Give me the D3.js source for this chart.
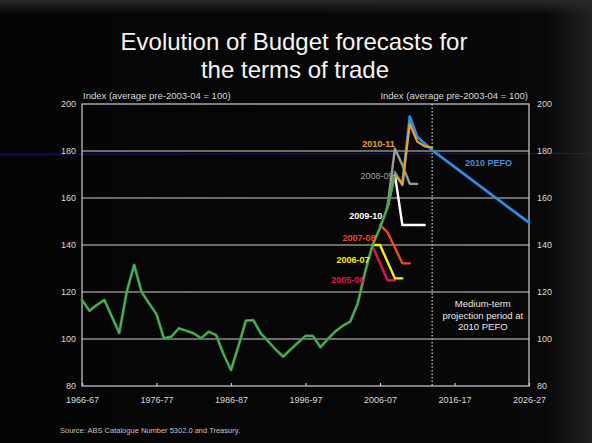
<!DOCTYPE html>
<html><head><meta charset="utf-8">
<script src="https://cdn.jsdelivr.net/npm/d3@7"></script>
<style>html,body{margin:0;padding:0;background:#000;}svg{display:block;}</style>
</head><body><svg id="c" width="592" height="443"></svg>
<script>
// ---------- DATA ----------
const histYears  = [1966,1967,1968,1969,1970,1971,1972,1973,1974,1975,1976,1977,1978,1979,1980,1981,1982,1983,1984,1985,1986,1987,1988,1989,1990,1991,1992,1993,1994,1995,1996,1997,1998,1999,2000,2001,2002,2003,2004,2005,2006,2007,2008];
const histValues = [116.6,112,114.5,116.6,109.6,102.6,120,131.5,120,115.2,110.5,100.3,101,104.5,103.5,102.4,100.3,103.1,101.7,93.5,86.8,97,107.8,108,102.4,99,95.5,92.5,95.5,98.5,101.3,101.3,96.5,100,103.2,105.6,107.4,115,128.5,140,147.3,156,170];

const fc0506Years = [2005,2007,2008];           const fc0506Values = [139.5,125,125];
const fc0607Years = [2005,2006,2008,2009];      const fc0607Values = [140,140,125.8,125.8];
const fc0708Years = [2006,2007,2009,2010];      const fc0708Values = [148.5,145.5,132.2,132.2];
const fc0809Years = [2007,2008,2009,2010,2011]; const fc0809Values = [156,181,174,166,166];
const fc0910Years = [2007,2008,2009,2012];      const fc0910Values = [156,170,148.5,148.5];
const fc1011Years = [2008,2009,2010,2011,2012,2013]; const fc1011Values = [170,166,191.5,184,182,181.5];
const pefoYears   = [2008,2009,2010,2011,2012,2013,2026]; const pefoValues = [171,165.5,194.6,186,183.2,180.4,149.5];

const xTickYears  = [1966,1976,1986,1996,2006,2016,2026];
const xTickLabels = ["1966-67","1976-77","1986-87","1996-97","2006-07","2016-17","2026-27"];
const yTicks      = [80,100,120,140,160,180,200];
const gridValues  = [100,120,140,160,180];
const projectionStartYear = 2013;

// ---------- LAYOUT ----------
const svg = d3.select("#c");
const W = 592, H = 443;
const pL = 82, pR = 529, pT = 104, pB = 386;
const x = d3.scaleLinear().domain([1966,2026]).range([pL,pR]);
const y = d3.scaleLinear().domain([80,200]).range([pB,pT]);
const FONT = "'Liberation Sans', Arial, sans-serif";

// background
const defs = svg.append("defs");
const g1 = defs.append("linearGradient").attr("id","edge").attr("x1","0").attr("x2","1");
g1.append("stop").attr("offset","0%").attr("stop-color","#050505");
g1.append("stop").attr("offset","92%").attr("stop-color","#080808");
g1.append("stop").attr("offset","100%").attr("stop-color","#222222");
svg.append("rect").attr("width",W).attr("height",H).attr("fill","url(#edge)");
const g2 = defs.append("linearGradient").attr("id","topedge").attr("x1","0").attr("x2","0").attr("y1","0").attr("y2","1");
g2.append("stop").attr("offset","0%").attr("stop-color","#2a2a2a");
g2.append("stop").attr("offset","100%").attr("stop-color","#2a2a2a").attr("stop-opacity",0);
svg.append("rect").attr("width",W).attr("height",14).attr("fill","url(#topedge)");

// title
svg.append("text").attr("x",294).attr("y",50).attr("text-anchor","middle")
  .attr("font-family",FONT).attr("font-size",24).attr("fill","#f4f4f4").text("Evolution of Budget forecasts for");
svg.append("text").attr("x",295).attr("y",78).attr("text-anchor","middle")
  .attr("font-family",FONT).attr("font-size",24).attr("fill","#f4f4f4").text("the terms of trade");

// photo artifact line (projector scan line)
svg.append("line").attr("x1",0).attr("x2",W).attr("y1",y(178.6)).attr("y2",y(178.9))
  .attr("stroke","#1c2290").attr("stroke-width",1).attr("opacity",0.8);

// gridlines
svg.append("g").selectAll("line").data(gridValues).join("line")
  .attr("x1",pL).attr("x2",pR).attr("y1",d=>y(d)).attr("y2",d=>y(d))
  .attr("stroke","#cfcfcf").attr("stroke-width",1.2);
// frame
svg.append("rect").attr("x",pL).attr("y",pT).attr("width",pR-pL).attr("height",pB-pT)
  .attr("fill","none").attr("stroke","#cfcfcf").attr("stroke-width",1.2);
// projection divider
svg.append("line").attr("x1",x(projectionStartYear)).attr("x2",x(projectionStartYear))
  .attr("y1",pT).attr("y2",pB).attr("stroke","#cfcfcf").attr("stroke-width",1.2)
  .attr("stroke-dasharray","1.5,2");

// axes
const xAxis = d3.axisBottom(x).tickValues(xTickYears).tickFormat((d,i)=>xTickLabels[i])
  .tickSizeInner(-3).tickSizeOuter(0).tickPadding(11);
const gx = svg.append("g").attr("transform",`translate(0,${pB})`).call(xAxis);
gx.select(".domain").remove();
gx.selectAll("line").attr("stroke","#cfcfcf").attr("stroke-width",1.2);
gx.selectAll("text").attr("font-family",FONT).attr("font-size",9).attr("fill","#d8d8d8");

const yl = svg.append("g").attr("transform",`translate(${pL},0)`)
  .call(d3.axisLeft(y).tickValues(yTicks).tickSize(0).tickPadding(6));
yl.select(".domain").remove();
yl.selectAll("text").attr("font-family",FONT).attr("font-size",9).attr("fill","#d8d8d8");
const yr = svg.append("g").attr("transform",`translate(${pR},0)`)
  .call(d3.axisRight(y).tickValues(yTicks).tickSize(0).tickPadding(8));
yr.select(".domain").remove();
yr.selectAll("text").attr("font-family",FONT).attr("font-size",9).attr("fill","#d8d8d8");

// axis titles
svg.append("text").attr("x",pL+1).attr("y",pT-5).attr("font-family",FONT).attr("font-size",9.5)
  .attr("fill","#d8d8d8").text("Index (average pre-2003-04 = 100)");
svg.append("text").attr("x",pR-1).attr("y",pT-5).attr("text-anchor","end").attr("font-family",FONT).attr("font-size",9.5)
  .attr("fill","#d8d8d8").text("Index (average pre-2003-04 = 100)");

// lines
const line = d3.line().x(d=>x(d[0])).y(d=>y(d[1]));
const zip = (a,b)=>a.map((v,i)=>[v,b[i]]);
function draw(years, values, color, w){
  svg.append("path").datum(zip(years,values)).attr("d",line).attr("fill","none")
    .attr("stroke",color).attr("stroke-width",w).attr("stroke-linejoin","round").attr("stroke-linecap","round");
}
draw(fc0506Years, fc0506Values, "#e5124f", 2.4);
draw(fc0607Years, fc0607Values, "#fff200", 2.4);
draw(fc0708Years, fc0708Values, "#ee4a1a", 2.4);
draw(fc0809Years, fc0809Values, "#9a9a9a", 2.4);
draw(fc0910Years, fc0910Values, "#ffffff", 2.4);
draw(histYears, histValues, "#319a3e", 2.8);
svg.append("path").datum(zip(histYears,histValues)).attr("d",line).attr("fill","none")
  .attr("stroke","#c8f0e0").attr("stroke-width",0.7).attr("opacity",0.4);
draw(pefoYears, pefoValues, "#2b8ce0", 2.8);
draw(fc1011Years, fc1011Values, "#f0a020", 2.2);

// series labels
const labels = [
  {t:"2010-11", yr:2008.0, v:182.9, c:"#f0a020", w:"bold", a:"end"},
  {t:"2008-09", yr:2007.8, v:169.6, c:"#a0a0a0", w:"normal", a:"end"},
  {t:"2009-10", yr:2006.3, v:152.2, c:"#ffffff", w:"bold", a:"end"},
  {t:"2007-08", yr:2005.4, v:143.0, c:"#ee4a1a", w:"bold", a:"end"},
  {t:"2006-07", yr:2004.6, v:133.8, c:"#fff200", w:"bold", a:"end"},
  {t:"2005-06", yr:2003.9, v:125.2, c:"#e5124f", w:"bold", a:"end"},
  {t:"2010 PEFO", yr:2017.4, v:175.0, c:"#3d8fdc", w:"bold", a:"start"}
];
svg.append("g").selectAll("text").data(labels).join("text")
  .attr("x",d=>x(d.yr)).attr("y",d=>y(d.v)).attr("dy","0.35em")
  .attr("text-anchor",d=>d.a).attr("font-family",FONT).attr("font-size",9)
  .attr("font-weight",d=>d.w).attr("fill",d=>d.c).text(d=>d.t);

// medium-term note
const note = ["Medium-term","projection period at","2010 PEFO"];
svg.append("g").selectAll("text").data(note).join("text")
  .attr("x",x(2019.8)).attr("y",(d,i)=>y(114.9)+i*11.4).attr("dy","0.35em").attr("text-anchor","middle")
  .attr("font-family",FONT).attr("font-size",9.5).attr("fill","#e8e8e8").text(d=>d);

// source
svg.append("text").attr("x",60).attr("y",433).attr("font-family",FONT).attr("font-size",7.5)
  .attr("fill","#c4c4c4").text("Source:  ABS Catalogue Number 5302.0 and Treasury.");
</script>
</body></html>
